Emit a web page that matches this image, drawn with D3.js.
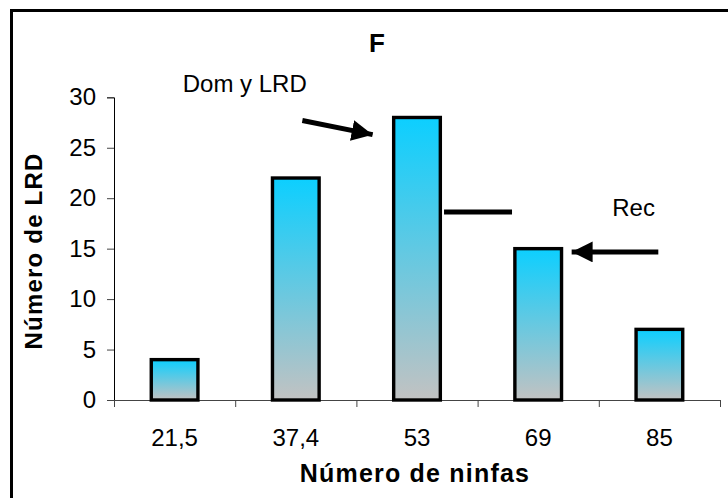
<!DOCTYPE html>
<html>
<head>
<meta charset="utf-8">
<script src="https://cdn.jsdelivr.net/npm/d3@7"></script>
<style>
  html, body { margin: 0; padding: 0; background: #fff; overflow: hidden; }
  svg { display: block; font-family: "Liberation Sans", Arial, sans-serif; }
</style>
</head>
<body>
<svg id="chart" width="728" height="498"></svg>
<script>
// ---- data ----
const categories = ["21,5", "37,4", "53", "69", "85"];
const values = [4, 22, 28, 15, 7];
const yTicks = [0, 5, 10, 15, 20, 25, 30];
const chartTitle = "F";
const xTitle = "Número de ninfas";
const yTitle = "Número de LRD";
// annotations in chart units (x: category-slot units from axis start, y: data value)
const annoLabels = [
  { text: "Dom y LRD", x: 0.567, y: 30.5 },
  { text: "Rec", x: 4.111, y: 18.2 }
];
const annoArrows = [
  { x1: 1.554, y1: 27.7, x2: 2.134, y2: 26.3, head: true },
  { x1: 4.491, y1: 14.68, x2: 3.776, y2: 14.68, head: true },
  { x1: 2.723, y1: 18.64, x2: 3.284, y2: 18.64, head: false }
];

// ---- layout ----
const svg = d3.select("#chart");
const mLeft = 114, mRight = 720, mTop = 97.3, mBottom = 400;

const x = d3.scaleBand().domain(categories).range([mLeft, mRight]).padding(0);
const xs = d3.scaleLinear().domain([0, categories.length]).range([mLeft, mRight]);
const y = d3.scaleLinear().domain([0, 30]).range([mBottom, mTop]);

// outer frame
svg.append("rect")
  .attr("x", 11.5).attr("y", 10.5)
  .attr("width", 740).attr("height", 500)
  .attr("fill", "none").attr("stroke", "#000").attr("stroke-width", 3);

// gradient
const defs = svg.append("defs");
const grad = defs.append("linearGradient")
  .attr("id", "barGrad").attr("x1", 0).attr("y1", 0).attr("x2", 0).attr("y2", 1);
grad.append("stop").attr("offset", "0%").attr("stop-color", "#0ccfff");
grad.append("stop").attr("offset", "100%").attr("stop-color", "#c2c2c2");

// arrow marker
defs.append("marker")
  .attr("id", "arrowHead")
  .attr("viewBox", "0 0 10 10")
  .attr("refX", 10).attr("refY", 5)
  .attr("markerWidth", 4.2).attr("markerHeight", 4.2)
  .attr("markerUnits", "strokeWidth")
  .attr("orient", "auto")
  .append("path").attr("d", "M0,0 L10,5 L0,10 z").attr("fill", "#000");

// y axis
const yAxis = d3.axisLeft(y).tickValues(yTicks).tickSize(7).tickPadding(11);
const gy = svg.append("g").attr("transform", `translate(${mLeft},0)`).call(yAxis);
gy.select(".domain").attr("stroke", "#000").attr("stroke-width", 1);
gy.selectAll(".tick line").attr("stroke", "#444");
gy.selectAll(".tick text")
  .attr("font-size", 24).attr("fill", "#000")
  .attr("font-family", "'Liberation Sans', Arial, sans-serif");

// x axis
const xAxis = d3.axisBottom(xs).tickValues(d3.range(categories.length + 1)).tickSize(7).tickFormat("");
const gx = svg.append("g").attr("transform", `translate(0,${mBottom})`).call(xAxis);
gx.select(".domain").attr("stroke", "#444").attr("stroke-width", 1);
gx.selectAll(".tick line").attr("stroke", "#444");

// x category labels
svg.append("g").selectAll("text")
  .data(categories).join("text")
  .attr("x", d => x(d) + x.bandwidth() / 2)
  .attr("y", 446)
  .attr("text-anchor", "middle")
  .attr("font-size", 24)
  .attr("fill", "#000")
  .text(d => d);

// bars
const barW = x.bandwidth() * 0.385;
svg.append("g").selectAll("rect")
  .data(values).join("rect")
  .attr("x", (d, i) => x(categories[i]) + (x.bandwidth() - barW) / 2)
  .attr("y", d => y(d))
  .attr("width", barW)
  .attr("height", d => y(0) - y(d))
  .attr("fill", "url(#barGrad)")
  .attr("stroke", "#000")
  .attr("stroke-width", 3.4);

// titles
svg.append("text")
  .attr("x", 377).attr("y", 52)
  .attr("text-anchor", "middle")
  .attr("font-size", 26).attr("font-weight", "bold")
  .text(chartTitle);

svg.append("text")
  .attr("x", 415).attr("y", 482)
  .attr("text-anchor", "middle")
  .attr("font-size", 25).attr("font-weight", "bold")
  .attr("letter-spacing", 1.2)
  .text(xTitle);

svg.append("text")
  .attr("transform", "translate(42,251) rotate(-90)")
  .attr("text-anchor", "middle")
  .attr("font-size", 24).attr("font-weight", "bold")
  .attr("letter-spacing", 1.2)
  .text(yTitle);

// annotations
svg.append("g").selectAll("text")
  .data(annoLabels).join("text")
  .attr("x", d => xs(d.x))
  .attr("y", d => y(d.y))
  .attr("font-size", 24)
  .attr("fill", "#000")
  .text(d => d.text);

svg.append("g").selectAll("line")
  .data(annoArrows).join("line")
  .attr("x1", d => xs(d.x1)).attr("y1", d => y(d.y1))
  .attr("x2", d => xs(d.x2)).attr("y2", d => y(d.y2))
  .attr("stroke", "#000")
  .attr("stroke-width", 5)
  .attr("marker-end", d => d.head ? "url(#arrowHead)" : null);
</script>
</body>
</html>
